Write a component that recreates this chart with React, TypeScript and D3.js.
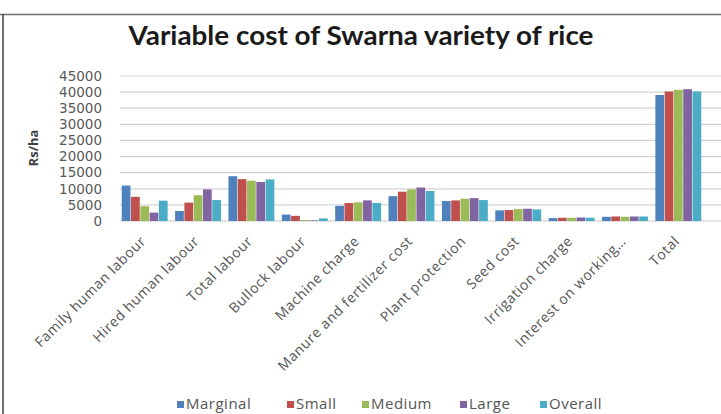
import React from "react";
import * as d3 from "d3";

const categories = [
  "Family human labour",
  "Hired human labour",
  "Total labour",
  "Bullock labour",
  "Machine charge",
  "Manure and fertilizer cost",
  "Plant protection",
  "Seed cost",
  "Irrigation charge",
  "Interest on working…",
  "Total",
];
const seriesNames = ["Marginal", "Small", "Medium", "Large", "Overall"];
const marginal = [11000, 3100, 13900, 2000, 4700, 7700, 6200, 3300, 900, 1300, 39100];
const small = [7500, 5700, 13000, 1600, 5600, 9100, 6400, 3400, 1000, 1400, 40200];
const medium = [4600, 8000, 12500, 300, 5800, 9800, 6900, 3700, 1000, 1300, 40700];
const large = [2600, 9800, 12100, 200, 6400, 10400, 7100, 3800, 1100, 1400, 40900];
const overall = [6300, 6500, 12900, 800, 5600, 9300, 6500, 3600, 1000, 1400, 40200];
const yTicks = [0, 5000, 10000, 15000, 20000, 25000, 30000, 35000, 40000, 45000];
const colors = ["#4F81BD", "#C0504D", "#9BBB59", "#8064A2", "#4BACC6"];

const seriesValues = [marginal, small, medium, large, overall];

export default function App() {
  const W = 721;
  const H = 414;
  const plotL = 118;
  const plotR = 705;
  const y0 = 221;
  const yTop = 76;

  const x = d3.scaleBand<string>().domain(categories).range([plotL, plotR]).paddingInner(0.14).paddingOuter(0.07);
  const xs = d3.scaleBand<string>().domain(seriesNames).range([0, x.bandwidth()]).paddingInner(0.06);
  const y = d3.scaleLinear().domain([0, 45000]).range([y0, yTop]);

  const legendX = [177, 287, 362, 460, 540];

  return (
    <div style={{ position: "absolute", left: 0, top: 0 }}>
      <svg width={W} height={H} style={{ display: "block", background: "#fff" }}>
        <rect x={0} y={0} width={W} height={H} fill="#fff" />
        <line x1={0} x2={W} y1={14.5} y2={14.5} stroke="#707070" strokeWidth={1.5} />
        <line x1={3} x2={3} y1={14} y2={H} stroke="#404040" strokeWidth={1.5} />
        <text x={361} y={45} textAnchor="middle" textLength={465} lengthAdjust="spacingAndGlyphs" fontFamily="Lato, 'Open Sans', sans-serif" fontWeight={700} fontSize={26} fill="#1a1a1a">
          Variable cost of Swarna variety of rice
        </text>
        {yTicks.map((t) => (
          <g key={t}>
            <line x1={plotL + 2} x2={W} y1={y(t)} y2={y(t)} stroke={t === 0 ? "#c8c8c8" : "#d4d4d4"} strokeWidth={1.2} />
            <text x={102} y={y(t)} dy="0.35em" textAnchor="end" fontFamily="'DejaVu Sans', sans-serif" fontSize={13.5} fill="#595959">
              {t}
            </text>
          </g>
        ))}
        <text transform={`translate(38,148) rotate(-90)`} textAnchor="middle" fontFamily="'Open Sans', sans-serif" fontWeight={700} fontSize={13} fill="#404040">
          Rs/ha
        </text>
        {categories.map((c, i) => (
          <g key={c}>
            {seriesValues.map((vals, s) => (
              <rect
                key={s}
                x={(x(c) as number) + (xs(seriesNames[s]) as number)}
                y={y(vals[i])}
                width={xs.bandwidth()}
                height={y0 - y(vals[i])}
                fill={colors[s]}
              />
            ))}
          </g>
        ))}
        {categories.map((c) => {
          const cx = (x(c) as number) + x.bandwidth() / 2 + 2;
          return (
            <text
              key={c}
              transform={`translate(${cx},242) rotate(-45)`}
              textAnchor="end"
              fontFamily="'Open Sans', sans-serif"
              fontSize={14}
              letterSpacing={0.6}
              fill="#555555"
            >
              {c}
            </text>
          );
        })}
        {seriesNames.map((n, i) => (
          <g key={n}>
            <rect x={legendX[i]} y={401} width={7} height={7} fill={colors[i]} />
            <text x={legendX[i] + 9} y={409} fontFamily="'Open Sans', sans-serif" fontSize={15} letterSpacing={0.5} fill="#555555">
              {n}
            </text>
          </g>
        ))}
      </svg>
    </div>
  );
}
